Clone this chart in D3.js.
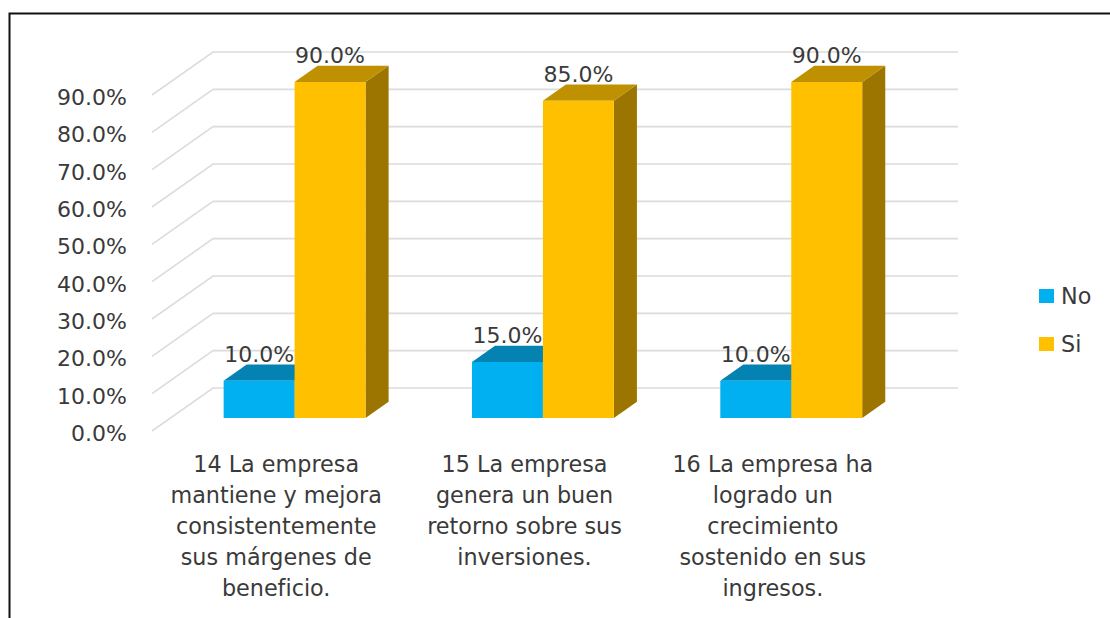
<!DOCTYPE html>
<html lang="es">
<head>
  <meta charset="UTF-8">
  <title>Rentabilidad</title>
  <script src="https://cdnjs.cloudflare.com/ajax/libs/d3/7.8.5/d3.min.js"></script>
  <style>
    html, body { margin: 0; padding: 0; background: #fff; }
    svg { display: block; }
    text { font-family: "DejaVu Sans", sans-serif; fill: #3a3a3a; }
  </style>
</head>
<body>
  <svg width="1110" height="618"></svg>
  <script>
    const categories = ["14", "15", "16"];
    const categoryLines = [
      ["14 La empresa", "mantiene y mejora", "consistentemente", "sus márgenes de", "beneficio."],
      ["15 La empresa", "genera un buen", "retorno sobre sus", "inversiones."],
      ["16 La empresa ha", "logrado un", "crecimiento", "sostenido en sus", "ingresos."]
    ];
    const seriesNames = ["No", "Si"];
    const noValues = [10, 15, 10];
    const siValues = [90, 85, 90];
    const tickValues = [0, 10, 20, 30, 40, 50, 60, 70, 80, 90];

    const seriesValues = { No: noValues, Si: siValues };
    const colors = {
      No: { front: "#00b0f0", top: "#0482b1", side: "#00749f" },
      Si: { front: "#ffc000", top: "#bf9000", side: "#9c7500" }
    };

    const svg = d3.select("svg");
    const fontSize = 22;
    const catFontSize = 22.3;

    // front plane of the 3D box, the back wall is shifted by depth
    const x0 = d3.scaleBand().domain(categories).range([152, 897]);
    const x1 = d3.scaleBand().domain(seriesNames)
      .range([0, x0.bandwidth()]).paddingOuter(0.75).paddingInner(0);
    const y = d3.scaleLinear().domain([0, 90]).range([431, 95]);
    const depthX = d3.scaleLinear().domain([0, 1]).range([0, 61]);
    const depthY = d3.scaleLinear().domain([0, 1]).range([0, -43]);
    const barFront = 0.302, barBack = 0.68;

    const px = (xv, d) => xv + depthX(d);
    const py = (v, d) => y(v) + depthY(d);
    const line = d3.line();

    // page frame
    svg.append("path")
      .attr("d", "M9.5,618V13.5H1110")
      .attr("fill", "none").attr("stroke", "#111").attr("stroke-width", 2);

    // gridlines: side wall + back wall
    svg.append("g").selectAll("path")
      .data(tickValues)
      .enter().append("path")
      .attr("d", v => line([
        [px(152, 0), py(v, 0)],
        [px(152, 1), py(v, 1)],
        [px(897, 1), py(v, 1)]
      ]))
      .attr("fill", "none")
      .attr("stroke", "#dcdcdc")
      .attr("stroke-width", 1.6);

    // y axis labels
    const yAxis = d3.axisLeft(y)
      .tickValues(tickValues)
      .tickSize(0)
      .tickPadding(0)
      .tickFormat(d => d.toFixed(1) + "%");
    const yG = svg.append("g").attr("transform", "translate(127,2.5)").call(yAxis);
    yG.select(".domain").remove();
    yG.selectAll("text").attr("font-size", fontSize).attr("font-family", null);

    // bars
    const bars = [];
    categories.forEach((c, i) => {
      seriesNames.forEach(s => {
        bars.push({ c, s, v: seriesValues[s][i], x: x0(c) + x1(s), w: x1.bandwidth() });
      });
    });

    const barG = svg.append("g").selectAll("g")
      .data(bars)
      .enter().append("g");

    barG.append("path") // side face
      .attr("d", d => line([
        [px(d.x + d.w, barFront), py(0, barFront)],
        [px(d.x + d.w, barBack), py(0, barBack)],
        [px(d.x + d.w, barBack), py(d.v, barBack)],
        [px(d.x + d.w, barFront), py(d.v, barFront)]
      ]) + "Z")
      .attr("fill", d => colors[d.s].side);

    barG.append("path") // top face
      .attr("d", d => line([
        [px(d.x, barFront), py(d.v, barFront)],
        [px(d.x, barBack), py(d.v, barBack)],
        [px(d.x + d.w, barBack), py(d.v, barBack)],
        [px(d.x + d.w, barFront), py(d.v, barFront)]
      ]) + "Z")
      .attr("fill", d => colors[d.s].top);

    barG.append("path") // front face
      .attr("d", d => line([
        [px(d.x, barFront), py(0, barFront)],
        [px(d.x, barFront), py(d.v, barFront)],
        [px(d.x + d.w, barFront), py(d.v, barFront)],
        [px(d.x + d.w, barFront), py(0, barFront)]
      ]) + "Z")
      .attr("fill", d => colors[d.s].front);

    // value labels
    svg.append("g").selectAll("text")
      .data(bars)
      .enter().append("text")
      .attr("x", d => px(d.x + d.w / 2, barFront))
      .attr("y", d => py(d.v, barBack) - 2.5)
      .attr("text-anchor", "middle")
      .attr("font-size", fontSize)
      .text(d => d.v.toFixed(1) + "%");

    // category labels
    const catText = svg.append("g").selectAll("text")
      .data(categories)
      .enter().append("text")
      .attr("text-anchor", "middle")
      .attr("font-size", catFontSize);
    catText.selectAll("tspan")
      .data((c, i) => categoryLines[i].map(t => ({ t, c })))
      .enter().append("tspan")
      .attr("x", d => x0(d.c) + x0.bandwidth() / 2)
      .attr("y", (d, j) => 472 + j * 31)
      .text(d => d.t);

    // legend
    const legend = svg.append("g").selectAll("g")
      .data(seriesNames)
      .enter().append("g")
      .attr("transform", (d, i) => `translate(1039,${289 + i * 48})`);
    legend.append("rect")
      .attr("width", 15).attr("height", 14)
      .attr("fill", d => colors[d].front);
    legend.append("text")
      .attr("x", 22).attr("y", 15)
      .attr("font-size", catFontSize)
      .text(d => d);
  </script>
</body>
</html>
